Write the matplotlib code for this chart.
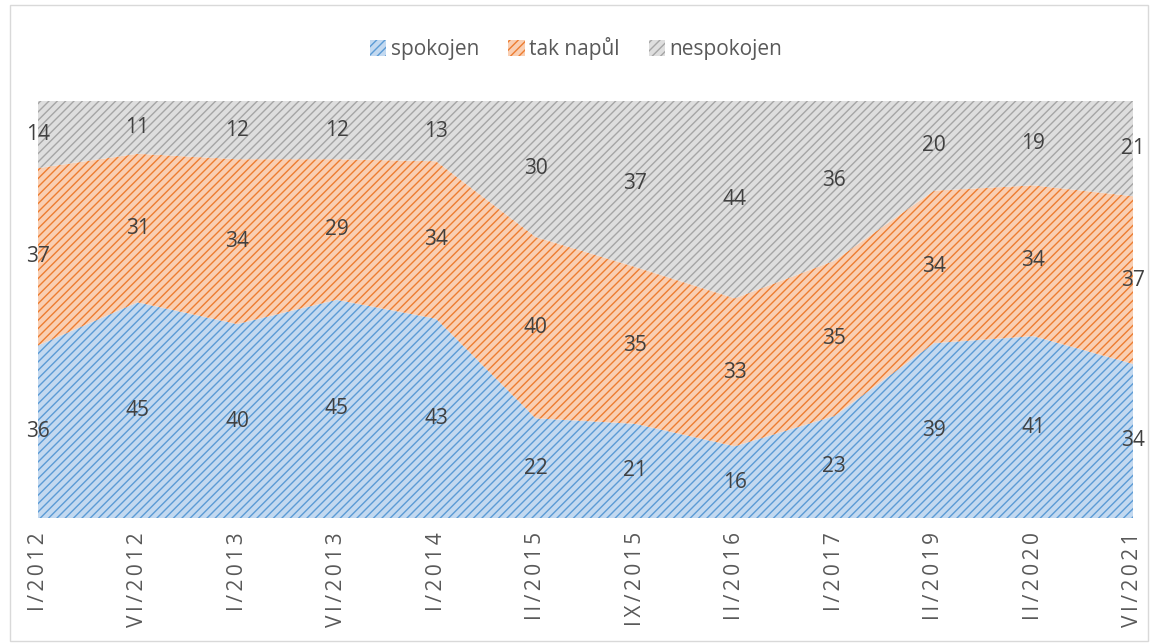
import numpy as np
import matplotlib.pyplot as plt
from matplotlib.patches import Rectangle

plt.rcParams['font.family'] = ['Open Sans', 'DejaVu Sans']
plt.rcParams['hatch.linewidth'] = 1.0

obdobi = ['I/2012', 'VI/2012', 'I/2013', 'VI/2013', 'I/2014', 'II/2015',
          'IX/2015', 'II/2016', 'I/2017', 'II/2019', 'II/2020', 'VI/2021']
spokojen = [36, 45, 40, 45, 43, 22, 21, 16, 23, 39, 41, 34]
tak_napul = [37, 31, 34, 29, 34, 40, 35, 33, 35, 34, 34, 37]
nespokojen = [14, 11, 12, 12, 13, 30, 37, 44, 36, 20, 19, 21]

nazvy = ['spokojen', 'tak napůl', 'nespokojen']
svetle = ['#c3d9f0', '#f9cfb3', '#dedede']
tmave = ['#5b9bd5', '#ed7d31', '#a5a5a5']

data = np.array([spokojen, tak_napul, nespokojen], dtype=float)
podil = data / data.sum(axis=0)
x = np.arange(len(obdobi))

fig = plt.figure(figsize=(11.52, 6.43), dpi=100)
ax = fig.add_axes([38 / 1152, 1 - 518 / 643, (1133 - 38) / 1152, (518 - 101) / 643])

spodek = np.zeros(len(x))
for i in range(3):
    vrch = spodek + podil[i]
    ax.fill_between(x, spodek, vrch, facecolor=svetle[i], edgecolor=tmave[i],
                    hatch='////', linewidth=0, label=nazvy[i])
    for j in range(len(x)):
        ax.text(x[j], (spodek[j] + vrch[j]) / 2, str(int(data[i, j])),
                ha='center', va='center', fontsize=15, color='#404040')
    spodek = vrch

# popisky s prolozenim znaku
popisky = ['\u2009'.join(s) for s in obdobi]
ax.set_xlim(0, len(x) - 1)
ax.set_ylim(0, 1)
ax.set_yticks([])
ax.set_xticks(x)
ax.set_xticklabels(popisky, rotation=90, fontsize=15, color='#595959')
ax.tick_params(axis='x', length=0, pad=10)
for s in ax.spines.values():
    s.set_visible(False)

ruce = [Rectangle((0, 0), 1, 1, facecolor=svetle[i], edgecolor=tmave[i],
                  hatch='////', linewidth=0) for i in range(3)]
fig.legend(ruce, nazvy, loc='center', bbox_to_anchor=(0.5, 1 - 49 / 643), ncol=3,
           frameon=False, fontsize=15, handlelength=0.8, handleheight=0.8,
           handletextpad=0.2, columnspacing=1.4, labelcolor='#595959')

fig.patches.append(Rectangle((10 / 1152, 2 / 643), 1138 / 1152, 636 / 643,
                             transform=fig.transFigure, fill=False,
                             edgecolor='#d9d9d9', linewidth=1))

fig.savefig('out.png', dpi=100)
